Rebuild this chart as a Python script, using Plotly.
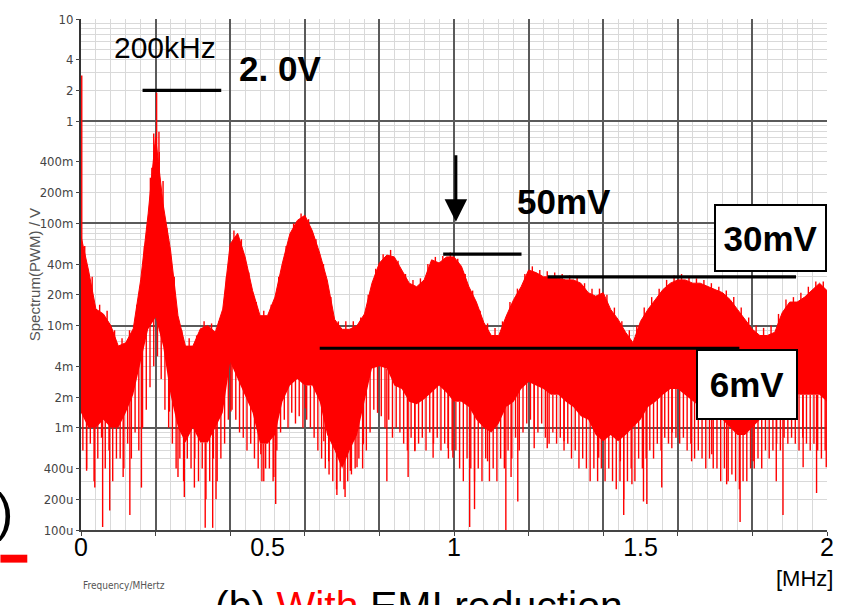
import plotly.graph_objects as go

# ---------------- data ----------------
freq = [round(i * 0.02, 2) for i in range(101)]  # MHz grid, 0 .. 2

upper = [0.075, 0.035, 0.0145, 0.013, 0.010, 0.0063, 0.0068, 0.0093, 0.028, 0.124,
         0.70, 0.155, 0.055, 0.0125, 0.0063, 0.0063, 0.0093, 0.010, 0.0086, 0.0145,
         0.063, 0.080, 0.047, 0.022, 0.0125, 0.0125, 0.019, 0.041, 0.079, 0.107,
         0.120, 0.085, 0.051, 0.028, 0.0115, 0.0092, 0.0092, 0.010, 0.013, 0.026,
         0.041, 0.049, 0.047, 0.035, 0.026, 0.024, 0.028, 0.044, 0.041, 0.047,
         0.047, 0.038, 0.024, 0.017, 0.0107, 0.008, 0.008, 0.0124, 0.018, 0.024,
         0.035, 0.033, 0.030, 0.030, 0.029, 0.028, 0.028, 0.026, 0.021, 0.0194,
         0.021, 0.0144, 0.0115, 0.0086, 0.0068, 0.011, 0.0144, 0.018, 0.0225, 0.026,
         0.028, 0.028, 0.026, 0.026, 0.024, 0.0225, 0.021, 0.018, 0.0144, 0.0115,
         0.0092, 0.008, 0.008, 0.0086, 0.0134, 0.017, 0.017, 0.019, 0.022, 0.026,
         0.022]

lower = [0.0014, 0.001, 0.001, 0.0012, 0.001, 0.001, 0.0014, 0.0021, 0.0044, 0.0092,
         0.012, 0.0063, 0.0021, 0.001, 0.00072, 0.001, 0.00072, 0.00072, 0.001, 0.0014,
         0.0044, 0.003, 0.0021, 0.0014, 0.0007, 0.0007, 0.00085, 0.0018, 0.0026, 0.003,
         0.0026, 0.0026, 0.0018, 0.00085, 0.0006, 0.0004, 0.0006, 0.00085, 0.0018, 0.0038,
         0.004, 0.0038, 0.0026, 0.0024, 0.0018, 0.0017, 0.0019, 0.0022, 0.0026, 0.0022,
         0.0018, 0.0018, 0.0016, 0.0012, 0.001, 0.0009, 0.0011, 0.0016, 0.0018, 0.0024,
         0.0028, 0.0026, 0.0024, 0.0021, 0.0021, 0.0018, 0.0016, 0.0013, 0.0012, 0.00085,
         0.00074, 0.00085, 0.00074, 0.00085, 0.001, 0.0012, 0.0016, 0.0018, 0.0021, 0.0024,
         0.0024, 0.0021, 0.0018, 0.0016, 0.0013, 0.0012, 0.0012, 0.001, 0.00085, 0.00085,
         0.001, 0.0012, 0.0013, 0.0016, 0.0018, 0.0021, 0.0021, 0.0021, 0.0021, 0.0021,
         0.0018]

# jagged top of the trace, between grid points (f = 0.01, 0.03, ... 1.99)
top_fuzz = [0.06, 0.03, 0.016, 0.014, 0.009, 0.0075, 0.009, 0.016, 0.06, 0.35,
            0.5, 0.09, 0.03, 0.009, 0.0075, 0.008, 0.011, 0.0105, 0.011, 0.03,
            0.085, 0.07, 0.033, 0.017, 0.014, 0.016, 0.03, 0.06, 0.1, 0.125,
            0.11, 0.07, 0.04, 0.019, 0.011, 0.011, 0.011, 0.012, 0.02, 0.036,
            0.05, 0.055, 0.043, 0.032, 0.028, 0.029, 0.04, 0.047, 0.048, 0.052,
            0.045, 0.032, 0.022, 0.014, 0.0105, 0.0095, 0.011, 0.017, 0.023, 0.032,
            0.038, 0.035, 0.034, 0.033, 0.032, 0.031, 0.03, 0.026, 0.023, 0.023,
            0.02, 0.015, 0.011, 0.009, 0.01, 0.015, 0.019, 0.023, 0.028, 0.031,
            0.032, 0.03, 0.029, 0.028, 0.026, 0.024, 0.022, 0.019, 0.015, 0.012,
            0.01, 0.0095, 0.01, 0.013, 0.018, 0.019, 0.021, 0.024, 0.027, 0.027]

# dense shallow dips below the solid band (f = 0.005, 0.015, ... 1.995)
fine_dips = [0.0006, 0.0004, 0.0007, 0.0003, 0.0005, 0.0008, 0.0004, 0.0006, 0.0003, 0.0005,
             0.0005, 0.0004, 0.0007, 0.0005, 0.0009, 0.0006, 0.001, 0.0015, 0.0025, 0.004,
             0.005, 0.003, 0.0015, 0.001, 0.0007, 0.0004, 0.0005, 0.0003, 0.0005, 0.0004,
             0.0005, 0.0003, 0.0004, 0.0002, 0.0003, 0.0005, 0.0003, 0.0005, 0.0007, 0.0012,
             0.0015, 0.0012, 0.0009, 0.0008, 0.0006, 0.0007, 0.0005, 0.0004, 0.0003, 0.0004,
             0.0004, 0.0003, 0.0006, 0.0009, 0.0012, 0.0010, 0.0014, 0.0011, 0.0013, 0.0010,
             0.0012, 0.0010, 0.0008, 0.0006, 0.0005, 0.0004, 0.00035, 0.0003, 0.00025, 0.0003,
             0.00025, 0.0003, 0.00035, 0.0004, 0.0005, 0.0004, 0.0006, 0.0009, 0.0015, 0.0014,
             0.0013, 0.0010, 0.0012, 0.0008, 0.0010, 0.0009, 0.0007, 0.0006, 0.0008, 0.0006,
             0.0007, 0.0008, 0.0006, 0.0009, 0.0007, 0.0008, 0.0006, 0.0007, 0.0005, 0.0006,
             0.0006, 0.0004, 0.0003, 0.0005, 0.0004, 0.0003, 0.0004, 0.0003, 0.0005, 0.0003,
             0.0004, 0.0003, 0.0005, 0.0004, 0.0006, 0.0005, 0.0008, 0.0006, 0.0009, 0.0011,
             0.0012, 0.0010, 0.0009, 0.0011, 0.0008, 0.0007, 0.0009, 0.0007, 0.0008, 0.0006,
             0.0007, 0.0005, 0.0006, 0.0004, 0.0005, 0.0004, 0.0003, 0.0004, 0.0003, 0.0004,
             0.0003, 0.0004, 0.0003, 0.00025, 0.0003, 0.0002, 0.0003, 0.0004, 0.0003, 0.0005,
             0.0004, 0.0005, 0.0006, 0.0005, 0.0007, 0.0006, 0.0008, 0.0007, 0.0009, 0.0008,
             0.0007, 0.0008, 0.0006, 0.0007, 0.0005, 0.0006, 0.0005, 0.0004, 0.0005, 0.0004,
             0.0004, 0.0003, 0.0004, 0.0003, 0.00035, 0.0003, 0.00025, 0.0003, 0.0003, 0.0004,
             0.0004, 0.0005, 0.0004, 0.0006, 0.0005, 0.0006, 0.0007, 0.0006, 0.0008, 0.0007,
             0.0008, 0.0007, 0.0006, 0.0008, 0.0007, 0.0006, 0.0007, 0.0006, 0.0005, 0.0006]

# deep downward spikes: frequency (MHz) and minimum value (V)
dip_f = [0.015, 0.037, 0.058, 0.077, 0.113, 0.131, 0.162, 0.237, 0.26, 0.277,
         0.304, 0.333, 0.353, 0.362, 0.402, 0.482, 0.49, 0.517, 0.522, 0.602,
         0.651, 0.664, 0.686, 0.708, 0.722, 0.74, 0.757, 0.82, 0.877, 0.895,
         0.944, 0.984, 0.997, 1.042, 1.055, 1.09, 1.139, 1.153, 1.171, 1.215,
         1.25, 1.295, 1.388, 1.446, 1.455, 1.477, 1.508, 1.517, 1.557, 1.584,
         1.637, 1.691, 1.731, 1.767, 1.802, 1.864, 1.882, 1.936, 1.972, 1.998]
dip_v = [0.00038, 0.00026, 0.000107, 0.000155, 0.00033, 0.00014, 0.00026, 0.00144, 0.00033, 0.00021,
         0.00026, 0.000105, 0.000105, 0.0002, 0.00144, 0.00055, 0.0003, 0.00033, 0.00018, 0.00155,
         0.00074, 0.00047, 0.00022, 0.00021, 0.00038, 0.00041, 0.00069, 0.0003, 0.00033, 0.00059,
         0.00051, 0.00063, 0.00051, 0.000107, 0.00016, 0.00047, 0.0001, 0.00033, 0.00019, 0.00063,
         0.00063, 0.00074, 0.00051, 0.00047, 0.00014, 0.00028, 0.00019, 0.00018, 0.00026, 0.00063,
         0.00047, 0.00055, 0.00028, 0.00012, 0.00047, 0.0003, 0.00014, 0.00041, 0.00023, 0.00041]

# upward spikes: frequency (MHz) and peak value (V)
peak_f = [0.002, 0.186, 0.195, 0.199, 0.2027, 0.209, 0.22]
peak_v = [2.8, 0.28, 0.76, 0.59, 1.9, 0.79, 0.26]

# marker level lines (start MHz, end MHz, level V)
level_f0 = [0.165, 0.971, 1.251, 0.640]
level_f1 = [0.376, 1.181, 1.917, 1.765]
level_v = [2.0, 0.05, 0.03, 0.006]

ytick_vals = [10, 4, 2, 1, 0.4, 0.2, 0.1, 0.04, 0.02, 0.01, 0.004, 0.002, 0.001, 0.0004, 0.0002, 0.0001]
ytick_text = ['10', '4', '2', '1', '400m', '200m', '100m', '40m', '20m', '10m', '4m', '2m', '1m', '400u', '200u', '100u']
xtick_vals = [0, 0.5, 1, 1.5, 2]
xtick_text = ['0', '0.5', '1', '1.5', '2']

# ---------------- layout geometry ----------------
W, H = 846, 605
PL, PR, PT, PB = 81, 831, 13, 530


def px(x):
    return (x - PL) / (PR - PL)


def py(y):
    return (PB - y) / (PB - PT)


RED = '#ff0000'
NARROW = 'Liberation Sans Narrow, DejaVu Sans Condensed, Arial Narrow, sans-serif'
SANS = 'Liberation Sans, Arial, sans-serif'
BOLDF = 'Liberation Sans, Arial, sans-serif'

fig = go.Figure()

# solid band
fig.add_trace(go.Scatter(x=freq, y=lower, mode='lines', line=dict(width=0, color=RED),
                         hoverinfo='skip', showlegend=False))
fig.add_trace(go.Scatter(x=freq, y=upper, mode='lines', line=dict(width=1, color=RED),
                         fill='tonexty', fillcolor=RED, hoverinfo='skip', showlegend=False))


def near(f):
    return max(0, min(int(f / 0.02), len(freq) - 2))


sx, sy = [], []
for k, v in enumerate(fine_dips):
    f = 0.005 + 0.01 * k
    i = near(f)
    sx += [f, f, None]
    sy += [max(lower[i], lower[i + 1]), v, None]
for k, v in enumerate(top_fuzz):
    f = 0.01 + 0.02 * k
    i = near(f)
    sx += [f, f, None]
    sy += [min(upper[i], upper[i + 1]), v, None]
for f, v in zip(dip_f, dip_v):
    i = near(f)
    sx += [f, f, None]
    sy += [max(lower[i], lower[i + 1]), v, None]
for f, v in zip(peak_f, peak_v):
    i = near(f)
    sx += [f, f, None]
    sy += [min(upper[i], upper[i + 1]), v, None]
fig.add_trace(go.Scatter(x=sx, y=sy, mode='lines', line=dict(width=1.4, color=RED),
                         hoverinfo='skip', showlegend=False))

lx, ly = [], []
for a, b, v in zip(level_f0, level_f1, level_v):
    lx += [a, b, None]
    ly += [v, v, None]
fig.add_trace(go.Scatter(x=lx, y=ly, mode='lines', line=dict(width=3.2, color='black'),
                         hoverinfo='skip', showlegend=False))

# invisible trace so that the overlay label axes exist
fig.add_trace(go.Scatter(x=[1], y=[1], xaxis='x2', yaxis='y2', mode='markers',
                         marker=dict(opacity=0), hoverinfo='skip', showlegend=False))

minor_y = [m * 10 ** e for e in range(-4, 1) for m in range(2, 10)]

fig.update_layout(
    width=W, height=H,
    margin=dict(l=PL, r=W - PR, t=PT, b=H - PB),
    paper_bgcolor='white', plot_bgcolor='white',
    xaxis=dict(range=[0, 2], tick0=0, dtick=0.2, showticklabels=False,
               showgrid=True, gridcolor='#5a5a5a', gridwidth=1.5,
               ticks='outside', ticklen=4, tickcolor='#444444',
               showline=True, linecolor='#444444', linewidth=2, zeroline=False,
               minor=dict(dtick=0.04, showgrid=True, gridcolor='#d9d9d9', gridwidth=1.4, ticks='')),
    xaxis2=dict(overlaying='x', anchor='y', side='bottom', range=[0, 2],
                tickvals=xtick_vals, ticktext=xtick_text, showgrid=False, ticks='',
                showline=False, zeroline=False,
                tickfont=dict(family=SANS, size=25, color='black')),
    yaxis=dict(type='log', range=[-4, 1], tickvals=[1e-4, 1e-3, 1e-2, 1e-1, 1, 10],
               showticklabels=False, showgrid=True, gridcolor='#5a5a5a', gridwidth=1.5,
               ticks='', showline=True, linecolor='#333333', linewidth=2, zeroline=False,
               minor=dict(tickvals=minor_y, showgrid=True, gridcolor='#d9d9d9', gridwidth=1.4, ticks='')),
    yaxis2=dict(type='log', range=[-4, 1], overlaying='y', anchor='x', side='left',
                tickvals=ytick_vals, ticktext=ytick_text, showgrid=False, zeroline=False,
                ticks='outside', ticklen=4, tickcolor='#444444', showline=False,
                tickfont=dict(family=NARROW, size=13, color='#444444')),
)

ann = []
ann.append(dict(text='Spectrum(PWM) / V', x=px(35), y=py(272), textangle=-90,
                font=dict(family=SANS, size=15, color='#555555')))
ann.append(dict(text='200kHz', x=px(165), y=py(42), font=dict(family=SANS, size=30, color='black')))
for t, cx, cy in [('2. 0V', 281, 63), ('50mV', 567, 198)]:
    ann.append(dict(text='<b>%s</b>' % t, x=px(cx), y=py(cy),
                    font=dict(family=BOLDF, size=35, color='black')))
ann.append(dict(text='<b>30mV</b>', x=px(774), y=py(235), width=109, height=64,
                bgcolor='white', bordercolor='black', borderwidth=2, borderpad=0,
                font=dict(family=BOLDF, size=35, color='black')))
ann.append(dict(text='<b>6mV</b>', x=px(751), y=py(382.5), width=98, height=67,
                bgcolor='white', bordercolor='black', borderwidth=2, borderpad=0,
                font=dict(family=BOLDF, size=35, color='black')))
ann.append(dict(text='[MHz]', x=px(808), y=py(579), font=dict(family=SANS, size=22, color='black')))
ann.append(dict(text='Frequency/MHertz', x=px(81), y=py(586), xanchor='left',
                font=dict(family=NARROW, size=10, color='#555555')))
ann.append(dict(text='(b) <span style="color:#ff0000">With</span> EMI reduction',
                x=px(421), y=py(582), yanchor='top',
                font=dict(family=SANS, size=41, color='black')))
ann.append(dict(text=')', x=px(15), y=py(512), xanchor='right',
                font=dict(family=SANS, size=52, color='black')))
for a in ann:
    a.setdefault('xref', 'paper')
    a.setdefault('yref', 'paper')
    a.setdefault('showarrow', False)
    a.setdefault('xanchor', 'center')
    a.setdefault('yanchor', 'middle')

# arrow pointing down at the 1 MHz hump
ann.append(dict(text='', x=1.005, y=-0.983, xref='x', yref='y', ax=0, ay=-68,
                showarrow=True, arrowhead=2, arrowsize=1.5, arrowwidth=3, arrowcolor='black'))

fig.update_layout(annotations=ann)
fig.add_shape(type='rect', xref='paper', yref='paper', x0=px(0), x1=px(27), y0=py(563), y1=py(555),
              fillcolor=RED, line=dict(width=0))

fig.write_html('out.html')
